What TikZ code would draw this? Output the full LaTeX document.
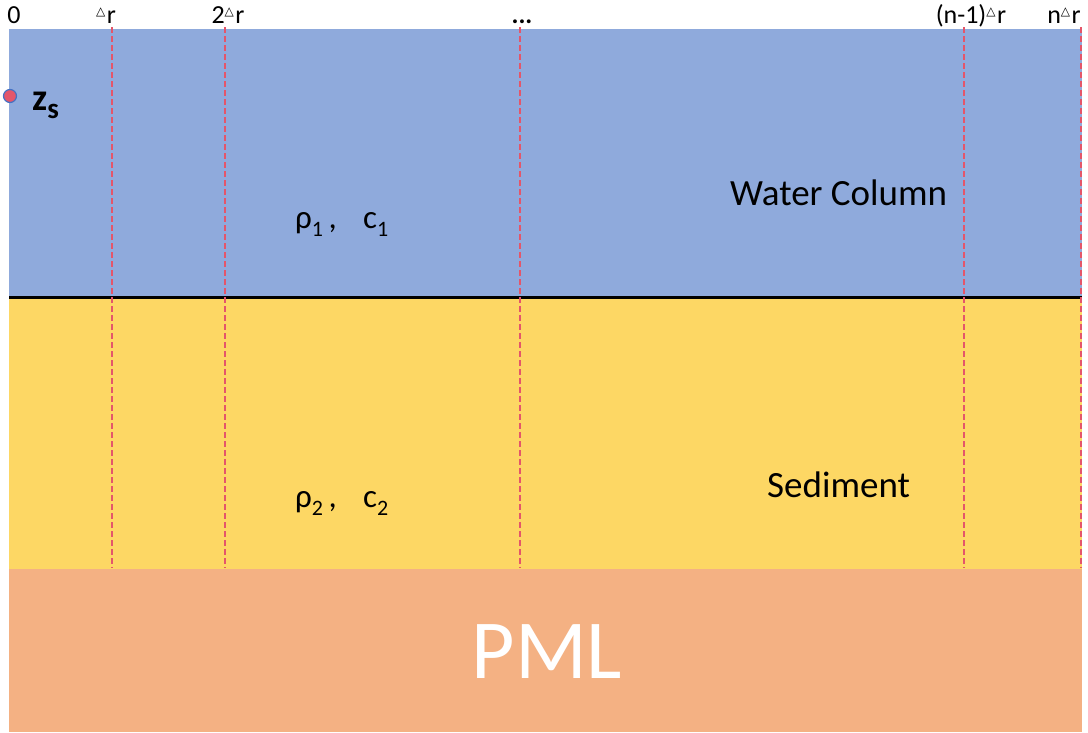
\documentclass[tikz,border=0pt]{standalone}
\usepackage{fontspec}
\setmainfont{Carlito}
\newfontfamily\dejavu{DejaVu Sans}
\definecolor{water}{HTML}{8FAADC}
\definecolor{sed}{HTML}{FDD764}
\definecolor{pml}{HTML}{F4B183}
\definecolor{gridred}{HTML}{E4566A}
\definecolor{dotblue}{HTML}{4472C4}
\newcommand\tri{{\dejavu\fontsize{12}{12}\selectfont\raisebox{8pt}{△}}\hspace{1.5pt}}
\begin{document}
\begin{tikzpicture}[x=1pt,y=-1pt,
  toplabel/.style={anchor=base,inner sep=0pt,font=\fontsize{26}{26}\selectfont},
  bigtext/.style={anchor=base west,inner sep=0pt,font=\fontsize{37}{37}\selectfont},
  symtext/.style={anchor=base west,inner sep=0pt,font=\fontsize{33}{33}\selectfont},
  gridline/.style={draw=gridred,line width=2pt,dash pattern=on 6pt off 3pt}]
\useasboundingbox (0,0) rectangle (1088,732);
% layers
\fill[water] (9,29) rectangle (1082,297);
\fill[sed] (9,297) rectangle (1082,569);
\fill[pml] (9,569) rectangle (1082,732);
% interface
\coordinate (ifl) at (9,297);
\coordinate (ifr) at (1082,297);
\draw[line width=3pt] (ifl) -- (ifr);
% grid lines
\foreach \n/\x in {g1/112,g2/225,g3/520,g4/964,g5/1081}{
  \coordinate (\n t) at (\x,27);
  \coordinate (\n b) at (\x,568);
  \draw[gridline] (\n t) -- (\n b);
}
% top labels
\node[toplabel] (l0) at (14,23) {0};
\node[toplabel] (l1) at (106,23) {\tri r};
\node[toplabel] (l2) at (228,23) {2\tri r};
\node[toplabel] (l3) at (522,23) {\textbf{...}};
\node[toplabel] (l4) at (971,23) {(n-1)\tri r};
\node[toplabel] (l5) at (1064,23) {n\tri r};
% source
\node[circle,fill=gridred,draw=dotblue,line width=1.2pt,minimum size=13pt,inner sep=0pt] (src) at (10,96) {};
\node[anchor=base west,inner sep=0pt,font=\fontsize{38}{38}\selectfont\bfseries] (zs) at (32,110) {z\raisebox{-8pt}{\fontsize{29}{29}\selectfont s}};
% layer texts
\node[bigtext] (wc) at (730,205) {Water Column};
\node[bigtext] (sd) at (767,497) {Sediment};
\node[symtext] (rho1) at (295,228) {ρ\raisebox{-8pt}{\fontsize{22}{22}\selectfont 1}\,,};
\node[symtext] (c1) at (363,228) {c\raisebox{-8pt}{\fontsize{22}{22}\selectfont 1}};
\node[symtext] (rho2) at (295,507) {ρ\raisebox{-8pt}{\fontsize{22}{22}\selectfont 2}\,,};
\node[symtext] (c2) at (363,507) {c\raisebox{-8pt}{\fontsize{22}{22}\selectfont 2}};
\node[anchor=base,inner sep=0pt,text=white,font=\fontsize{84}{84}\selectfont] (pmlt) at (547,678) {PML};
\end{tikzpicture}
\end{document}
